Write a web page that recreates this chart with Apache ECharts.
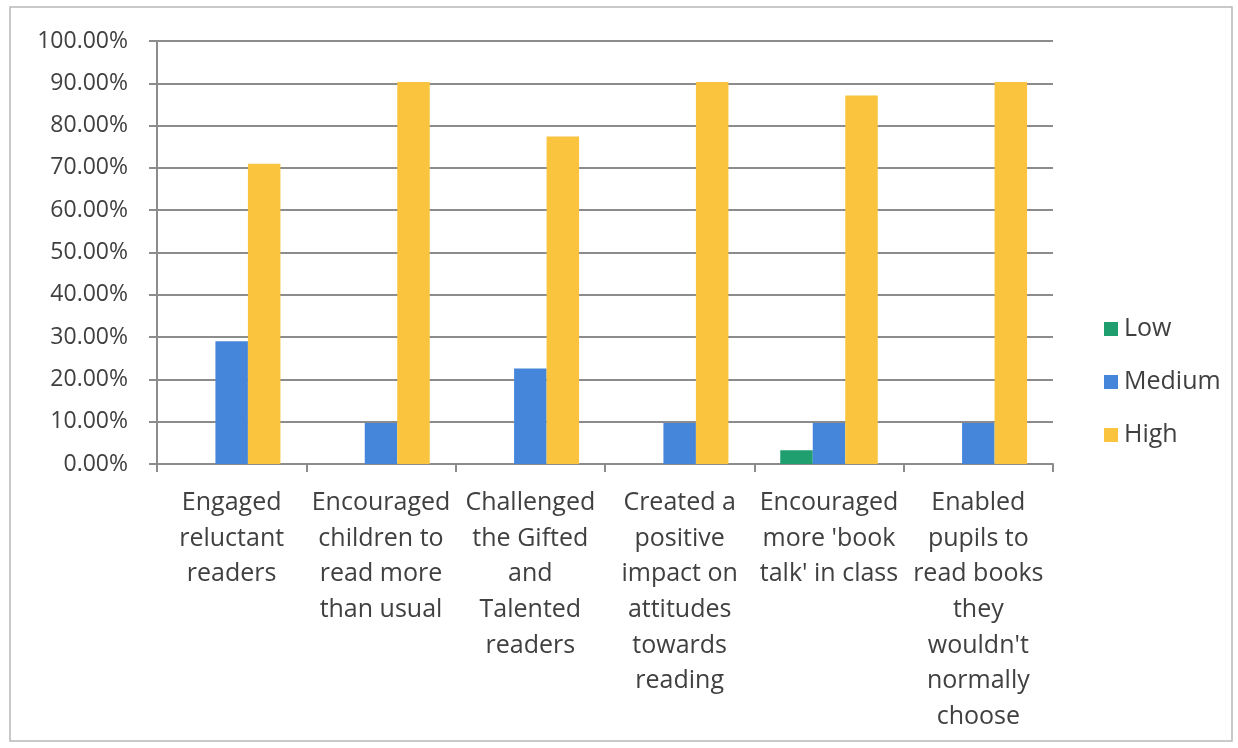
<!DOCTYPE html>
<html>
<head>
<meta charset="utf-8">
<script src="https://cdn.jsdelivr.net/npm/echarts@6/dist/echarts.min.js"></script>
<style>
html,body{margin:0;padding:0;background:#fff;}
#chart{width:1238px;height:748px;}
</style>
</head>
<body>
<div id="chart"></div>
<script>
const categories = [
  "Engaged\nreluctant\nreaders",
  "Encouraged\nchildren to\nread more\nthan usual",
  "Challenged\nthe Gifted\nand\nTalented\nreaders",
  "Created a\npositive\nimpact on\nattitudes\ntowards\nreading",
  "Encouraged\nmore 'book\ntalk' in class",
  "Enabled\npupils to\nread books\nthey\nwouldn't\nnormally\nchoose"
];
const lowValues = [0, 0, 0, 0, 3.23, 0];
const mediumValues = [29.03, 9.68, 22.58, 9.68, 9.68, 9.68];
const highValues = [70.97, 90.32, 77.42, 90.32, 87.10, 90.32];
const seriesNames = ["Low", "Medium", "High"];
const yTicks = { min: 0, max: 100, interval: 10 };

const FONT = "'Open Sans', 'DejaVu Sans', sans-serif";
const TEXT = '#404040';
const GRIDC = '#8c8c8c';

const chart = echarts.init(document.getElementById('chart'), null, { renderer: 'canvas' });
chart.setOption({
  animation: false,
  backgroundColor: '#ffffff',
  textStyle: { fontFamily: FONT },
  graphic: [{
    type: 'rect',
    shape: { x: 10, y: 7, width: 1222, height: 734 },
    style: { fill: 'none', stroke: '#b8b8b8', lineWidth: 1.5 },
    silent: true
  }],
  grid: { left: 157, right: 185, top: 41, bottom: 284, containLabel: false },
  legend: {
    orient: 'vertical',
    left: 1099,
    top: 309,
    itemWidth: 14,
    itemHeight: 14,
    itemGap: 23,
    icon: 'rect',
    data: seriesNames,
    textStyle: { fontFamily: FONT, fontSize: 25, color: TEXT, lineHeight: 30, padding: [0, 0, 0, 1] }
  },
  xAxis: {
    type: 'category',
    data: categories,
    boundaryGap: true,
    axisLine: { show: true, lineStyle: { color: GRIDC, width: 2 } },
    axisTick: { show: true, length: 8, lineStyle: { color: GRIDC, width: 2 } },
    axisLabel: {
      interval: 0,
      margin: 21,
      fontFamily: FONT,
      fontSize: 25,
      lineHeight: 35.7,
      color: TEXT,
      align: 'center',
      verticalAlign: 'top'
    }
  },
  yAxis: {
    type: 'value',
    min: yTicks.min,
    max: yTicks.max,
    interval: yTicks.interval,
    axisLine: { show: true, lineStyle: { color: GRIDC, width: 2 } },
    axisTick: { show: true, length: 8, lineStyle: { color: GRIDC, width: 2 } },
    splitLine: { show: true, lineStyle: { color: GRIDC, width: 2 } },
    axisLabel: {
      margin: 29,
      fontFamily: FONT,
      fontSize: 23,
      color: TEXT,
      formatter: v => v.toFixed(2) + '%'
    }
  },
  series: [
    { name: seriesNames[0], type: 'bar', data: lowValues, barWidth: 32.5, barGap: '0%', itemStyle: { color: '#1f9e6f' } },
    { name: seriesNames[1], type: 'bar', data: mediumValues, barWidth: 32.5, barGap: '0%', itemStyle: { color: '#4686da' } },
    { name: seriesNames[2], type: 'bar', data: highValues, barWidth: 32.5, barGap: '0%', itemStyle: { color: '#fac43e' } }
  ]
});
</script>
</body>
</html>
